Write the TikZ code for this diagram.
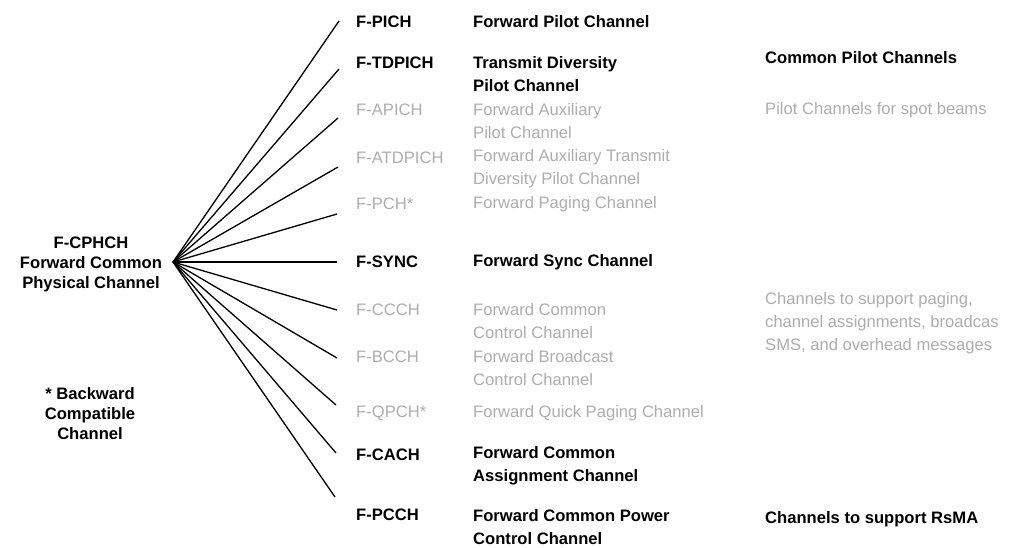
\documentclass[tikz,border=0pt]{standalone}
\usepackage{fontspec}
\setmainfont{Liberation Sans}
\begin{document}
\begin{tikzpicture}[x=1pt,y=-1pt,
  lbl/.style={inner sep=0pt,anchor=west,align=left,font=\fontsize{16.6}{23}\selectfont\bfseries},
  faint/.style={inner sep=0pt,anchor=west,align=left,text=black!32,font=\fontsize{16.6}{23}\selectfont},
  ctr/.style={inner sep=0pt,align=center,font=\fontsize{16.6}{20}\selectfont\bfseries},
  fan/.style={line width=1.3pt}]
\useasboundingbox (0,0) rectangle (1014,547);
% left labels
\node[ctr] (root) at (91,264) {F-CPHCH\\Forward Common\\Physical Channel};
\node[ctr] (note) at (90,414) {* Backward\\Compatible\\Channel};
% fan
\coordinate (hub) at (173,262);
\coordinate (e1) at (339,21);
\coordinate (e2) at (339,69);
\coordinate (e3) at (338,118);
\coordinate (e4) at (338,167);
\coordinate (e5) at (337,214);
\coordinate (e6) at (337,262);
\coordinate (e7) at (337,310);
\coordinate (e8) at (337,358);
\coordinate (e9) at (336,405);
\coordinate (e10) at (336,453);
\coordinate (e11) at (335,497);
\foreach \i in {1,...,11} \draw[fan] (hub) -- (e\i);
% column 1
\node[lbl] (a1) at (356,22) {F-PICH};
\node[lbl] (a2) at (356,63) {F-TDPICH};
\node[faint] (a3) at (356,110) {F-APICH};
\node[faint] (a4) at (356,158) {F-ATDPICH};
\node[faint] (a5) at (356,204) {F-PCH*};
\node[lbl] (a6) at (356,262) {F-SYNC};
\node[faint] (a7) at (356,310) {F-CCCH};
\node[faint] (a8) at (356,357) {F-BCCH};
\node[faint] (a9) at (356,413) {F-QPCH*};
\node[lbl] (a10) at (356,455) {F-CACH};
\node[lbl] (a11) at (356,515) {F-PCCH};
% column 2
\node[lbl] (b1) at (473,22) {Forward Pilot Channel};
\node[lbl] (b2) at (473,74) {Transmit Diversity\\Pilot Channel};
\node[faint] (b3) at (473,121) {Forward Auxiliary\\Pilot Channel};
\node[faint] (b4) at (473,169) {Forward Auxiliary Transmit\\Diversity Pilot Channel};
\node[faint] (b5) at (473,204) {Forward Paging Channel};
\node[lbl] (b6) at (473,262) {Forward Sync Channel};
\node[faint] (b7) at (473,321) {Forward Common\\Control Channel};
\node[faint] (b8) at (473,368) {Forward Broadcast\\Control Channel};
\node[faint] (b9) at (473,413) {Forward Quick Paging Channel};
\node[lbl] (b10) at (473,466) {Forward Common\\Assignment Channel};
\node[lbl] (b11) at (473,527) {Forward Common Power\\Control Channel};
% column 3
\node[lbl] (c1) at (765,58) {Common Pilot Channels};
\node[faint] (c2) at (765,110) {Pilot Channels for spot beams};
\node[faint] (c3) at (765,323) {Channels to support paging,\\channel assignments, broadcas\\SMS, and overhead messages};
\node[lbl] (c4) at (765,519) {Channels to support RsMA};
\end{tikzpicture}
\end{document}
